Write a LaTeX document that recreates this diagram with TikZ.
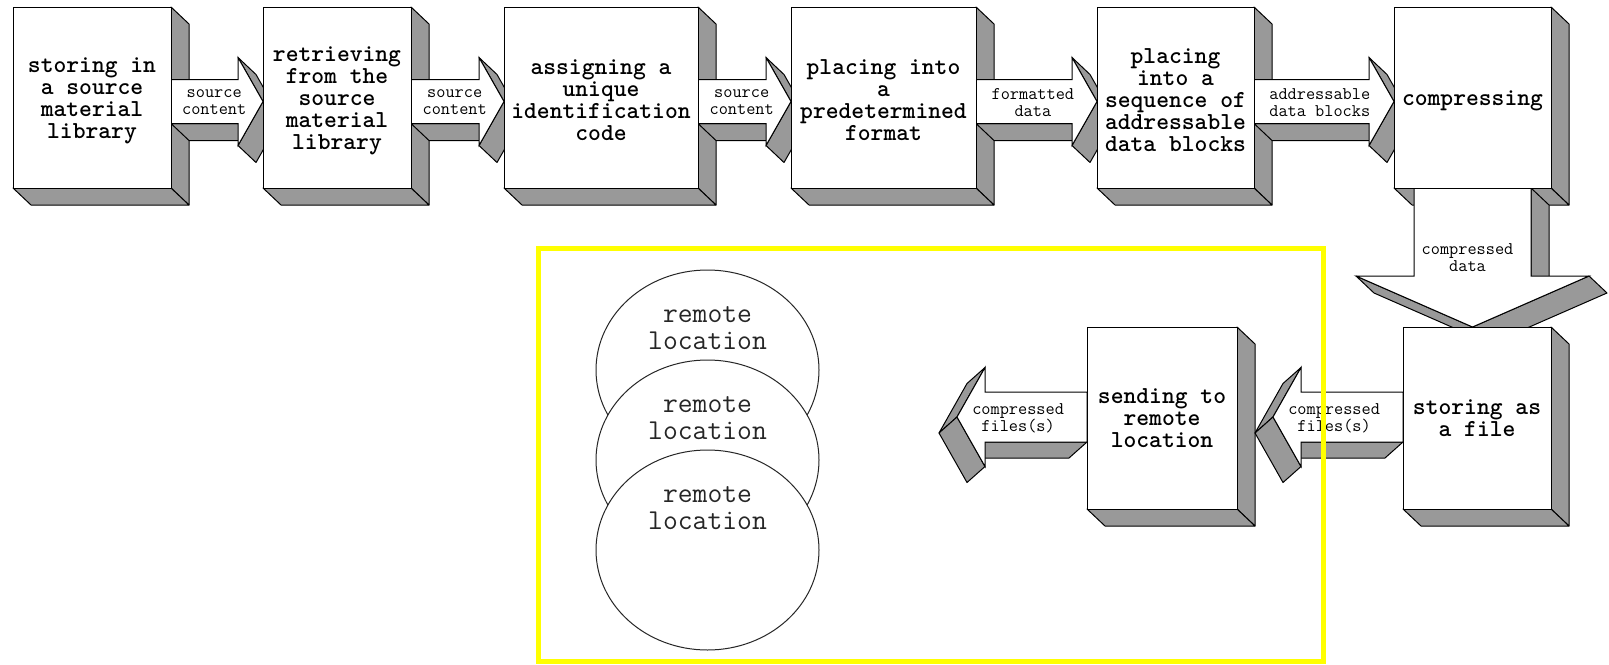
\documentclass[tikz,border=0pt]{standalone}
\usepackage{fontspec}
\usetikzlibrary{calc,shapes.geometric}
\definecolor{shade}{RGB}{153,153,153}
\definecolor{hl}{RGB}{255,255,0}
\pgfdeclarelayer{faces}
\pgfdeclarelayer{arrows}
\pgfsetlayers{faces,arrows,main}
\tikzset{
  box/.style={draw=black, fill=white, line width=1pt, inner sep=0pt, outer sep=0pt,
    align=center, font=\ttfamily\bfseries\fontsize{24.4}{22}\selectfont},
  btxt/.style={inner sep=0pt, align=center, font=\ttfamily\bfseries\fontsize{24.4}{22}\selectfont},
  face/.style={fill=shade, draw=black, line width=1pt, line join=round},
  front/.style={fill=white, draw=black, line width=1pt, line join=miter},
  albl/.style={inner sep=0pt, align=center, font=\ttfamily\fontsize{17.8}{17}\selectfont},
  remote/.style={ellipse, draw=black!85, line width=1pt, fill=white, inner sep=0pt,
    minimum width=223pt, minimum height=200pt},
  rlbl/.style={inner sep=0pt, align=center, text=black!85, font=\ttfamily\fontsize{28.8}{27}\selectfont},
  frame/.style={draw=hl, line width=5pt, inner sep=0pt, outer sep=0pt}
}
\newcommand\boxfaces[1]{%
  \begin{pgfonlayer}{faces}
  \path[face] (#1.north east) -- ++(18,17) -- ($(#1.south east)+(18,17)$) -- (#1.south east) -- cycle;
  \path[face] (#1.south west) -- (#1.south east) -- ++(18,17) -- ($(#1.south west)+(18,17)$) -- cycle;
  \end{pgfonlayer}}
% right-pointing 3D arrow: #1 start, #2 tip
\newcommand\rarrow[2]{%
  \begin{pgfonlayer}{arrows}
  \path[face] ($(#1)+(0,22)$) -- ($(#2)+(-25,22)$) -- ($(#2)+(-7,39)$) -- ($(#1)+(18,39)$) -- cycle;
  \path[face] ($(#2)+(-25,-44)$) -- (#2) -- ($(#2)+(18,17)$) -- ($(#2)+(-7,-27)$) -- cycle;
  \path[face] ($(#2)+(-25,44)$) -- (#2) -- ($(#2)+(18,17)$) -- ($(#2)+(-7,61)$) -- cycle;
  \path[front] ($(#1)+(0,-22)$) -- ($(#2)+(-25,-22)$) -- ($(#2)+(-25,-44)$) -- (#2)
     -- ($(#2)+(-25,44)$) -- ($(#2)+(-25,22)$) -- ($(#1)+(0,22)$) -- cycle;
  \end{pgfonlayer}}
% left-pointing 3D arrow: #1 start (right end), #2 tip
\newcommand\larrow[2]{%
  \begin{pgfonlayer}{arrows}
  \path[face] ($(#1)+(0,25)$) -- ($(#2)+(28,25)$) -- ($(#2)+(10,41)$) -- ($(#1)+(-18,41)$) -- cycle;
  \path[face] ($(#2)+(28,-49.5)$) -- (#2) -- ($(#2)+(-18,16)$) -- ($(#2)+(10,-33.5)$) -- cycle;
  \path[face] (#2) -- ($(#2)+(28,49.5)$) -- ($(#2)+(10,65.5)$) -- ($(#2)+(-18,16)$) -- cycle;
  \path[front] ($(#1)+(0,-25)$) -- ($(#2)+(28,-25)$) -- ($(#2)+(28,-49.5)$) -- (#2)
     -- ($(#2)+(28,49.5)$) -- ($(#2)+(28,25)$) -- ($(#1)+(0,25)$) -- cycle;
  \end{pgfonlayer}}
% down-pointing 3D arrow: #1 start, #2 tip
\newcommand\darrow[2]{%
  \begin{pgfonlayer}{arrows}
  \path[face] ($(#1)+(58.5,0)$) -- ($(#1)+(76.5,17)$) -- ($(#2)+(76.5,-34)$) -- ($(#2)+(58.5,-51)$) -- cycle;
  \path[face] ($(#2)+(-116.5,-51)$) -- (#2) -- ($(#2)+(18,17)$) -- ($(#2)+(-98.5,-34)$) -- cycle;
  \path[face] ($(#2)+(116.5,-51)$) -- (#2) -- ($(#2)+(18,17)$) -- ($(#2)+(134.5,-34)$) -- cycle;
  \path[front] ($(#1)+(-58.5,0)$) -- ($(#2)+(-58.5,-51)$) -- ($(#2)+(-116.5,-51)$) -- (#2)
     -- ($(#2)+(116.5,-51)$) -- ($(#2)+(58.5,-51)$) -- ($(#1)+(58.5,0)$) -- cycle;
  \end{pgfonlayer}}
\begin{document}
\begin{tikzpicture}[x=1pt,y=-1pt]
\begin{pgfonlayer}{faces}
\fill[white] (0,0) rectangle (1609,664);
\end{pgfonlayer}
\useasboundingbox (0,0) rectangle (1609,664);

% ---- top row boxes
\node[box, minimum width=158pt, minimum height=181pt] (b1) at (92,97.5) {};
\node[btxt] (b1t) at ($(b1.center)+(0,3)$) {storing in\\a source\\material\\library};
\node[box, minimum width=148pt, minimum height=181pt] (b2) at (337,97.5) {};
\node[btxt] (b2t) at ($(b2.center)+(0,3)$) {retrieving\\from the\\source\\material\\library};
\node[box, minimum width=194pt, minimum height=181pt] (b3) at (601,97.5) {};
\node[btxt] (b3t) at ($(b3.center)+(0,3)$) {assigning a\\unique\\identification\\code};
\node[box, minimum width=185pt, minimum height=181pt] (b4) at (883.5,97.5) {};
\node[btxt] (b4t) at ($(b4.center)+(0,3)$) {placing into\\a\\predetermined\\format};
\node[box, minimum width=157pt, minimum height=181pt] (b5) at (1175.5,97.5) {};
\node[btxt] (b5t) at ($(b5.center)+(0,3)$) {placing\\into a\\sequence of\\addressable\\data blocks};
\node[box, minimum width=157pt, minimum height=181pt] (b6) at (1472.5,97.5) {};
\node[btxt] (b6t) at ($(b6.center)+(0,3)$) {compressing};
\boxfaces{b1}\boxfaces{b2}\boxfaces{b3}\boxfaces{b4}\boxfaces{b5}\boxfaces{b6}

% ---- top row arrows
\coordinate (a1s) at ($(b1.east)+(0,4)$);
\coordinate (a1e) at ($(b2.west)+(0,4)$);
\rarrow{a1s}{a1e}
\node[albl] (l1) at ($(a1s)!0.47!(a1e)+(0,1)$) {source\\content};
\coordinate (a2s) at ($(b2.east)+(0,4)$);
\coordinate (a2e) at ($(b3.west)+(0,4)$);
\rarrow{a2s}{a2e}
\node[albl] (l2) at ($(a2s)!0.47!(a2e)+(0,1)$) {source\\content};
\coordinate (a3s) at ($(b3.east)+(0,4)$);
\coordinate (a3e) at ($(b4.west)+(0,4)$);
\rarrow{a3s}{a3e}
\node[albl] (l3) at ($(a3s)!0.47!(a3e)+(0,1)$) {source\\content};
\coordinate (a4s) at ($(b4.east)+(0,4)$);
\coordinate (a4e) at ($(b5.west)+(0,4)$);
\rarrow{a4s}{a4e}
\node[albl] (l4) at ($(a4s)!0.47!(a4e)+(0,1)$) {formatted\\data};
\coordinate (a5s) at ($(b5.east)+(0,4)$);
\coordinate (a5e) at ($(b6.west)+(0,4)$);
\rarrow{a5s}{a5e}
\node[albl] (l5) at ($(a5s)!0.47!(a5e)+(0,1)$) {addressable\\data blocks};

% ---- bottom row
\node[box, minimum width=148pt, minimum height=182pt] (store) at (1477,418)
  {storing as\\a file};
\node[box, minimum width=150pt, minimum height=182pt] (send) at (1162,418)
  {sending to\\remote\\location};
\boxfaces{store}\boxfaces{send}

\coordinate (dnE) at (b6.south |- store.north);
\darrow{b6.south}{dnE}
\node[albl] (l6) at ($(b6.south)+(-5,70)$) {compressed\\data};

\coordinate (bS) at ($(store.west)+(0,-1)$);
\coordinate (bT) at ($(send.east)+(36,-1)$);
\larrow{bS}{bT}
\node[albl] (l7) at ($(bT)!0.47!(bS)+(0,1)$) {compressed\\files(s)};

\coordinate (aS) at ($(send.west)+(0,-1)$);
\coordinate (aT) at ($(send.west)+(-130,-1)$);
\larrow{aS}{aT}
\node[albl] (l8) at ($(aT)!0.47!(aS)+(0,1)$) {compressed\\files(s)};

% ---- remote locations
\node[remote] (c1) at (707.5,370) {};
\node[rlbl] (t1) at ($(c1.center)+(0,-41.5)$) {remote\\location};
\node[remote] (c2) at (707.5,460) {};
\node[rlbl] (t2) at ($(c2.center)+(0,-41.5)$) {remote\\location};
\node[remote] (c3) at (707.5,550) {};
\node[rlbl] (t3) at ($(c3.center)+(0,-41.5)$) {remote\\location};

% ---- highlight frame
\node[frame, minimum width=785pt, minimum height=413pt] (hlbox) at (930.5,454.5) {};
\end{tikzpicture}
\end{document}
